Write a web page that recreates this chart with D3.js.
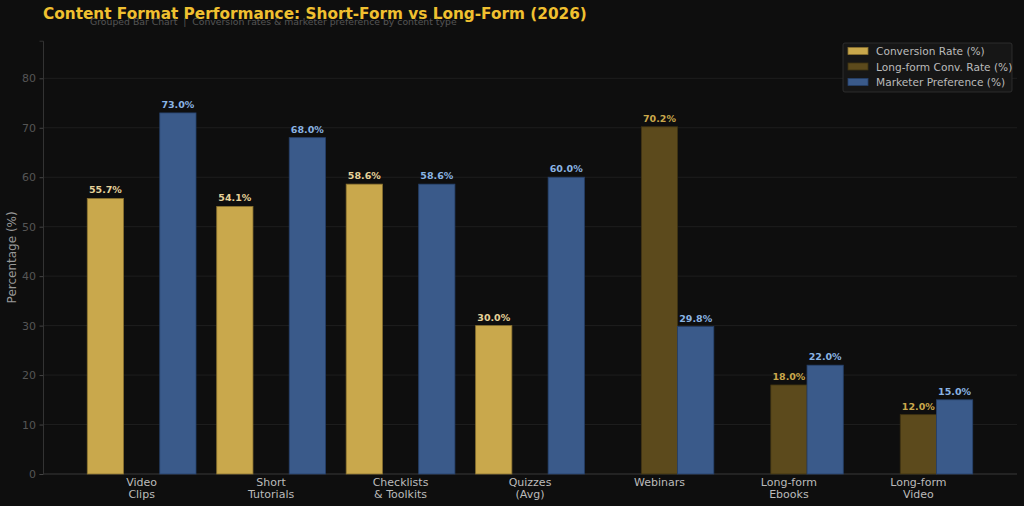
<!DOCTYPE html>
<html>
<head>
<meta charset="utf-8">
<script src="https://cdn.jsdelivr.net/npm/d3@7"></script>
<style>
    body { margin: 0; background: #0e0e0e; }
    svg { display: block; font-family: "DejaVu Sans", sans-serif; }
</style>
</head>
<body>
<div id="canvas"></div>
<script>
"use strict";

// Data
let categories = [
    ["Video", "Clips"],
    ["Short", "Tutorials"],
    ["Checklists", "& Toolkits"],
    ["Quizzes", "(Avg)"],
    ["Webinars"],
    ["Long-form", "Ebooks"],
    ["Long-form", "Video"]
];
let conversionRate = [55.7, 54.1, 58.6, 30.0, 0, 0, 0];
let longFormConvRate = [0, 0, 0, 0, 70.2, 18.0, 12.0];
let marketerPreference = [73.0, 68.0, 58.6, 60.0, 29.8, 22.0, 15.0];
let yTicks = [0, 10, 20, 30, 40, 50, 60, 70, 80];
let seriesNames = ["Conversion Rate (%)", "Long-form Conv. Rate (%)", "Marketer Preference (%)"];

let svgWidth = 1024;
let svgHeight = 506;
let margin = { top: 40.7, right: 7, bottom: 32, left: 43 };

let svg = d3.select("#canvas")
    .append("svg")
    .attr("width", svgWidth)
    .attr("height", svgHeight);

svg.append("rect")
    .attr("width", svgWidth)
    .attr("height", svgHeight)
    .attr("fill", "#0e0e0e");

let barWidth = 0.28;
let n = categories.length;

// x in "group index" units, like a plain grouped bar layout
let xScale = d3.scaleLinear()
    .domain([-0.762, n - 1 + 0.762])
    .range([margin.left, svgWidth - margin.right]);

let yScale = d3.scaleLinear()
    .domain([0, 87.6])
    .range([svgHeight - margin.bottom, margin.top]);

// Grid lines
svg.append("g")
    .selectAll("line")
    .data(yTicks)
    .join("line")
    .attr("x1", margin.left)
    .attr("x2", svgWidth - margin.right)
    .attr("y1", d => yScale(d))
    .attr("y2", d => yScale(d))
    .attr("stroke", "#222222")
    .attr("stroke-width", 0.8);

// Y axis
let yAxis = d3.axisLeft(yScale).tickValues(yTicks).tickSize(3.5).tickPadding(3.5);
let yAxisG = svg.append("g")
    .attr("transform", "translate(" + margin.left + ",0)")
    .call(yAxis);
yAxisG.select(".domain").attr("stroke", "#333333");
yAxisG.selectAll(".tick line").attr("stroke", "#444444");
yAxisG.selectAll(".tick text")
    .attr("fill", "#555555")
    .style("font-size", "11px")
    .style("font-family", "DejaVu Sans");

// X axis baseline
svg.append("line")
    .attr("x1", margin.left)
    .attr("x2", svgWidth - margin.right)
    .attr("y1", yScale(0))
    .attr("y2", yScale(0))
    .attr("stroke", "#333333")
    .attr("stroke-width", 1);

// Bars
let series = [
    { values: conversionRate, offset: -1, fill: "#c9a84c", stroke: "#8a7230", label: "#e6d29a" },
    { values: longFormConvRate, offset: 0, fill: "#5c4a1c", stroke: "#3e3212", label: "#c9a84c" },
    { values: marketerPreference, offset: 1, fill: "#3a5a8a", stroke: "#26406a", label: "#8ab4e4" }
];

for (let s = 0; s < series.length; s++) {
    let ser = series[s];
    let pts = ser.values.map((v, i) => ({ v: v, i: i })).filter(d => d.v > 0);

    svg.append("g")
        .selectAll("rect")
        .data(pts)
        .join("rect")
        .attr("x", d => xScale(d.i + ser.offset * barWidth - barWidth / 2))
        .attr("width", xScale(barWidth) - xScale(0))
        .attr("y", d => yScale(d.v))
        .attr("height", d => yScale(0) - yScale(d.v))
        .attr("fill", ser.fill)
        .attr("stroke", ser.stroke)
        .attr("stroke-width", 0.8);

    svg.append("g")
        .selectAll("text")
        .data(pts)
        .join("text")
        .attr("x", d => xScale(d.i + ser.offset * barWidth))
        .attr("y", d => yScale(d.v) - 5)
        .attr("text-anchor", "middle")
        .attr("fill", ser.label)
        .style("font-size", "9.5px")
        .style("font-weight", "bold")
        .text(d => d.v.toFixed(1) + "%");
}

// X tick labels
let xLabels = svg.append("g")
    .selectAll("text")
    .data(categories)
    .join("text")
    .attr("x", (d, i) => xScale(i))
    .attr("y", yScale(0) + 12)
    .attr("text-anchor", "middle")
    .attr("fill", "#bbbbbb")
    .style("font-size", "11px");
xLabels.selectAll("tspan")
    .data(d => d)
    .join("tspan")
    .attr("x", function() { return d3.select(this.parentNode).attr("x"); })
    .attr("dy", (d, i) => i === 0 ? 0 : 11.5)
    .text(d => d);

// Y axis label
svg.append("text")
    .attr("transform", "translate(16," + yScale(43.8) + ") rotate(-90)")
    .attr("text-anchor", "middle")
    .attr("fill", "#999999")
    .style("font-size", "12px")
    .text("Percentage (%)");

// Title and subtitle (they overlap in the reference too)
svg.append("text")
    .attr("x", 43)
    .attr("y", 19)
    .attr("fill", "#f0c030")
    .style("font-size", "15.3px")
    .style("font-weight", "bold")
    .text("Content Format Performance: Short-Form vs Long-Form (2026)");

svg.append("text")
    .attr("x", 90)
    .attr("y", 25)
    .attr("fill", "#555555")
    .style("font-size", "9.3px")
    .style("white-space", "pre")
    .text("Grouped Bar Chart  |  Conversion rates & marketer preference by content type");

// Legend
let legendX = 843;
let legendY = 43;
svg.append("rect")
    .attr("x", legendX)
    .attr("y", legendY)
    .attr("width", 169)
    .attr("height", 49)
    .attr("rx", 2)
    .attr("fill", "#161616")
    .attr("stroke", "#333333")
    .attr("stroke-width", 0.8);

for (let s = 0; s < series.length; s++) {
    let rowY = legendY + 8 + s * 15.5;
    svg.append("rect")
        .attr("x", legendX + 5)
        .attr("y", rowY - 3.5)
        .attr("width", 20)
        .attr("height", 7)
        .attr("fill", series[s].fill)
        .attr("stroke", series[s].stroke)
        .attr("stroke-width", 0.8);
    svg.append("text")
        .attr("x", legendX + 33)
        .attr("y", rowY + 4)
        .attr("fill", "#bbbbbb")
        .style("font-size", "10.6px")
        .text(seriesNames[s]);
}
</script>
</body>
</html>
